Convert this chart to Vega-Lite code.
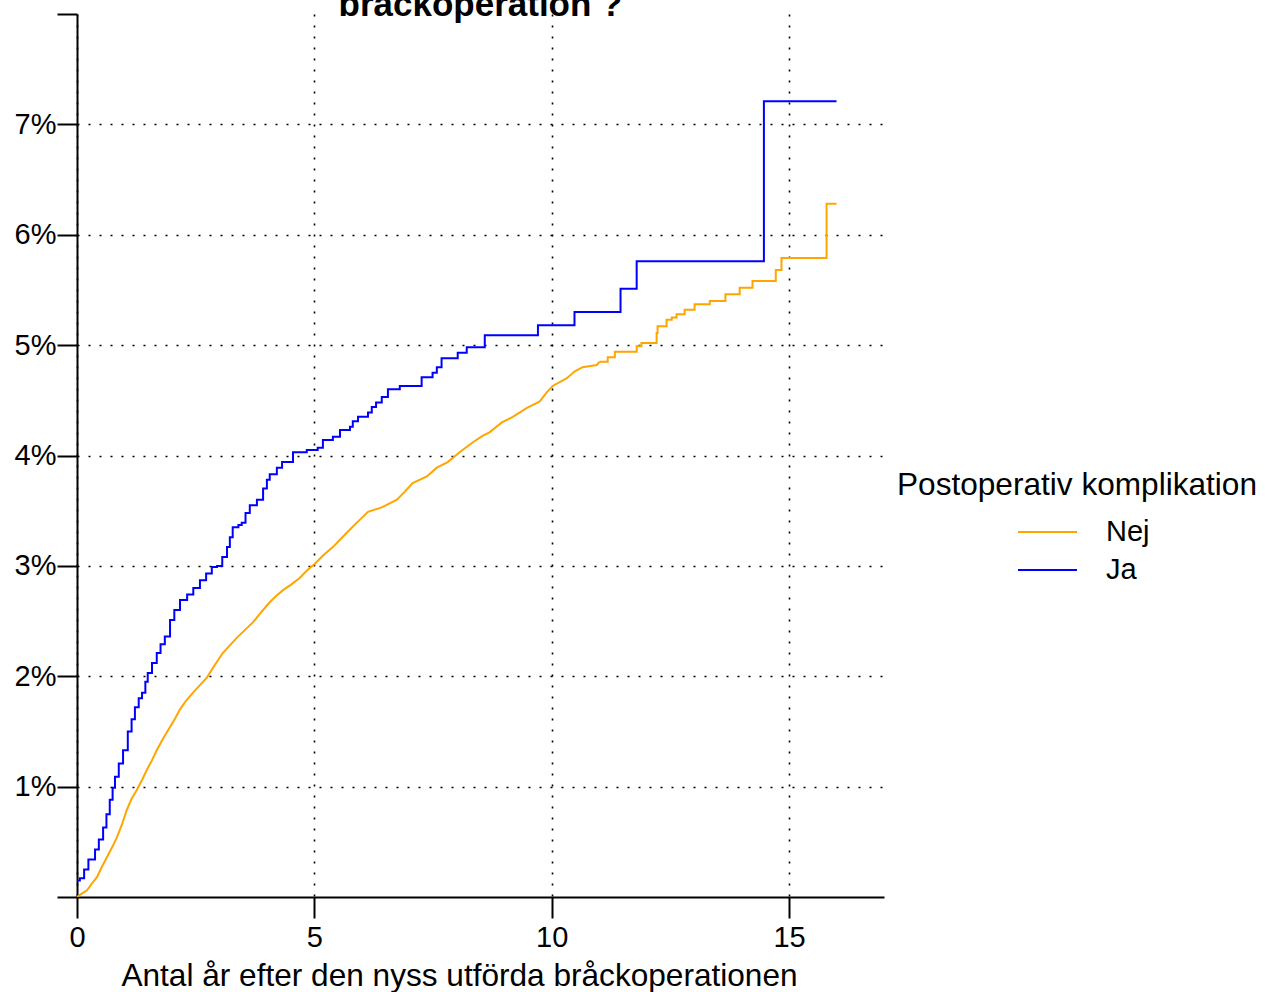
{
  "$schema": "https://vega.github.io/schema/vega-lite/v6.json",
  "autosize": "none",
  "width": 807,
  "height": 883,
  "padding": {"left": 77, "top": 14, "right": 381, "bottom": 95},
  "background": "white",
  "config": {
    "font": "Liberation Sans",
    "view": {"stroke": null}
  },
  "title": {
    "text": "bråckoperation ?",
    "font": "Liberation Sans",
    "fontSize": 35,
    "fontWeight": "bold",
    "color": "black",
    "anchor": "middle",
    "baseline": "alphabetic",
    "offset": -38
  },
  "datasets": {
    "ja": [
      {"t": 0, "p": 0.0015}, {"t": 0.06, "p": 0.0017}, {"t": 0.15, "p": 0.0025}, {"t": 0.24, "p": 0.0034},
      {"t": 0.38, "p": 0.0043}, {"t": 0.46, "p": 0.0052}, {"t": 0.55, "p": 0.0063}, {"t": 0.62, "p": 0.0075},
      {"t": 0.69, "p": 0.0088}, {"t": 0.75, "p": 0.0099}, {"t": 0.80, "p": 0.0109}, {"t": 0.88, "p": 0.0121},
      {"t": 0.97, "p": 0.0133}, {"t": 1.07, "p": 0.0150}, {"t": 1.15, "p": 0.0161}, {"t": 1.22, "p": 0.0172},
      {"t": 1.30, "p": 0.0180}, {"t": 1.37, "p": 0.0185}, {"t": 1.44, "p": 0.0195}, {"t": 1.49, "p": 0.0203},
      {"t": 1.58, "p": 0.0212}, {"t": 1.68, "p": 0.0221}, {"t": 1.76, "p": 0.0229}, {"t": 1.85, "p": 0.0236},
      {"t": 1.96, "p": 0.0251}, {"t": 2.05, "p": 0.0260}, {"t": 2.17, "p": 0.0269}, {"t": 2.32, "p": 0.0274},
      {"t": 2.45, "p": 0.0280}, {"t": 2.59, "p": 0.0287}, {"t": 2.72, "p": 0.0293}, {"t": 2.84, "p": 0.0299},
      {"t": 2.95, "p": 0.0300}, {"t": 3.06, "p": 0.0308}, {"t": 3.16, "p": 0.0317}, {"t": 3.22, "p": 0.0326},
      {"t": 3.28, "p": 0.0335}, {"t": 3.40, "p": 0.0337}, {"t": 3.47, "p": 0.0339}, {"t": 3.55, "p": 0.0348},
      {"t": 3.64, "p": 0.0355}, {"t": 3.79, "p": 0.0360}, {"t": 3.92, "p": 0.0370}, {"t": 4.00, "p": 0.0378},
      {"t": 4.06, "p": 0.0383}, {"t": 4.21, "p": 0.0389}, {"t": 4.32, "p": 0.0394}, {"t": 4.55, "p": 0.0403},
      {"t": 4.84, "p": 0.0405}, {"t": 5.07, "p": 0.0407}, {"t": 5.18, "p": 0.0414}, {"t": 5.39, "p": 0.0417},
      {"t": 5.54, "p": 0.0423}, {"t": 5.75, "p": 0.0426}, {"t": 5.81, "p": 0.0431}, {"t": 5.92, "p": 0.0435},
      {"t": 6.13, "p": 0.0439}, {"t": 6.21, "p": 0.0444}, {"t": 6.30, "p": 0.0448}, {"t": 6.42, "p": 0.0453},
      {"t": 6.55, "p": 0.0460}, {"t": 6.80, "p": 0.0463}, {"t": 7.26, "p": 0.0471}, {"t": 7.49, "p": 0.0475},
      {"t": 7.58, "p": 0.0480}, {"t": 7.68, "p": 0.0488}, {"t": 8.02, "p": 0.0493}, {"t": 8.21, "p": 0.0498},
      {"t": 8.59, "p": 0.0509}, {"t": 9.71, "p": 0.0518}, {"t": 10.48, "p": 0.0530}, {"t": 11.45, "p": 0.0551},
      {"t": 11.79, "p": 0.0576}, {"t": 14.47, "p": 0.0721}, {"t": 16.0, "p": 0.0721}
    ],
    "nejSmooth": [
      {"t": 0, "p": 0.0}, {"t": 0.1, "p": 0.0003}, {"t": 0.21, "p": 0.0006}, {"t": 0.31, "p": 0.0012},
      {"t": 0.42, "p": 0.0018}, {"t": 0.52, "p": 0.0027}, {"t": 0.63, "p": 0.0036}, {"t": 0.74, "p": 0.0045},
      {"t": 0.84, "p": 0.0054}, {"t": 0.95, "p": 0.0066}, {"t": 1.05, "p": 0.0079}, {"t": 1.15, "p": 0.0089},
      {"t": 1.26, "p": 0.0097}, {"t": 1.37, "p": 0.0106}, {"t": 1.47, "p": 0.0115}, {"t": 1.58, "p": 0.0124},
      {"t": 1.68, "p": 0.0133}, {"t": 1.82, "p": 0.0144}, {"t": 1.96, "p": 0.0154}, {"t": 2.07, "p": 0.0162},
      {"t": 2.17, "p": 0.0170}, {"t": 2.30, "p": 0.0178}, {"t": 2.44, "p": 0.0185}, {"t": 2.59, "p": 0.0192},
      {"t": 2.74, "p": 0.0199}, {"t": 2.90, "p": 0.0210}, {"t": 3.07, "p": 0.0221}, {"t": 3.22, "p": 0.0228},
      {"t": 3.37, "p": 0.0235}, {"t": 3.54, "p": 0.0242}, {"t": 3.71, "p": 0.0249}, {"t": 3.88, "p": 0.0258},
      {"t": 4.06, "p": 0.0267}, {"t": 4.20, "p": 0.0273}, {"t": 4.34, "p": 0.0278}, {"t": 4.51, "p": 0.0283},
      {"t": 4.69, "p": 0.0289}, {"t": 4.85, "p": 0.0296}, {"t": 5.01, "p": 0.0302}, {"t": 5.20, "p": 0.0310},
      {"t": 5.39, "p": 0.0317}, {"t": 5.57, "p": 0.0325}, {"t": 5.75, "p": 0.0333}, {"t": 5.94, "p": 0.0341},
      {"t": 6.13, "p": 0.0349}, {"t": 6.42, "p": 0.0353}, {"t": 6.74, "p": 0.0360}, {"t": 6.90, "p": 0.0367},
      {"t": 7.07, "p": 0.0375}, {"t": 7.37, "p": 0.0381}, {"t": 7.58, "p": 0.0389}, {"t": 7.81, "p": 0.0394},
      {"t": 8.06, "p": 0.0403}, {"t": 8.34, "p": 0.0412}, {"t": 8.55, "p": 0.0418}, {"t": 8.69, "p": 0.0421},
      {"t": 8.95, "p": 0.0430}, {"t": 9.18, "p": 0.0435}, {"t": 9.47, "p": 0.0443}, {"t": 9.75, "p": 0.0449},
      {"t": 9.89, "p": 0.0457}, {"t": 10.02, "p": 0.0463}, {"t": 10.32, "p": 0.0470}, {"t": 10.48, "p": 0.0476},
      {"t": 10.65, "p": 0.0480}, {"t": 10.95, "p": 0.0482}, {"t": 11.01, "p": 0.0485}
    ],
    "nejSteps": [
      {"t": 11.01, "p": 0.0485}, {"t": 11.18, "p": 0.0489},
      {"t": 11.33, "p": 0.0494}, {"t": 11.79, "p": 0.0499}, {"t": 11.89, "p": 0.0502}, {"t": 12.21, "p": 0.0511},
      {"t": 12.23, "p": 0.0517}, {"t": 12.42, "p": 0.0523}, {"t": 12.53, "p": 0.0525}, {"t": 12.63, "p": 0.0528},
      {"t": 12.80, "p": 0.0532}, {"t": 13.01, "p": 0.0537}, {"t": 13.33, "p": 0.0540}, {"t": 13.66, "p": 0.0546},
      {"t": 13.96, "p": 0.0552}, {"t": 14.23, "p": 0.0558}, {"t": 14.72, "p": 0.0568}, {"t": 14.84, "p": 0.0579},
      {"t": 15.79, "p": 0.0628}, {"t": 16.0, "p": 0.0628}
    ]
  },
  "layer": [
    {
      "data": {"name": "nejSmooth"},
      "transform": [{"calculate": "'Nej'", "as": "grupp"}],
      "mark": {"type": "line", "interpolate": "linear", "strokeWidth": 2, "clip": true},
      "encoding": {
        "x": {
          "field": "t", "type": "quantitative",
          "scale": {"domain": [0, 17], "nice": false, "zero": false},
          "axis": {
            "values": [0, 5, 10, 15],
            "title": "Antal år efter den nyss utförda bråckoperationen",
            "titleFont": "Liberation Sans", "titleFontSize": 31.6, "titleFontWeight": "normal", "titleColor": "black",
            "titleX": 382, "titlePadding": 8,
            "labelFont": "Liberation Sans", "labelFontSize": 29, "labelColor": "black", "labelPadding": 5,
            "labelFlush": false,
            "domainColor": "black", "domainWidth": 2,
            "tickColor": "black", "tickWidth": 2, "tickSize": 21,
            "grid": true, "gridColor": "black", "gridDash": [2, 9], "gridWidth": 1.6, "gridOpacity": 1
          }
        },
        "y": {
          "field": "p", "type": "quantitative",
          "scale": {"domain": [0, 0.08], "nice": false},
          "axis": {
            "values": [0, 0.01, 0.02, 0.03, 0.04, 0.05, 0.06, 0.07, 0.08],
            "labelExpr": "(datum.value < 0.005 || datum.value > 0.075) ? '' : format(datum.value, '.0%')",
            "title": null,
            "labelFont": "Liberation Sans", "labelFontSize": 29, "labelColor": "black", "labelPadding": 1,
            "labelFlush": false,
            "domainColor": "black", "domainWidth": 2,
            "tickColor": "black", "tickWidth": 2, "tickSize": 20,
            "grid": true, "gridColor": "black", "gridDash": [2, 9], "gridWidth": 1.6,
            "gridOpacity": {"condition": {"test": "datum.value < 0.005 || datum.value > 0.075", "value": 0}, "value": 1}
          }
        },
        "color": {
          "field": "grupp", "type": "nominal",
          "scale": {"domain": ["Nej", "Ja"], "range": ["#FFA500", "#0000FF"]},
          "legend": {
            "title": "Postoperativ komplikation",
            "orient": "none", "legendX": 820, "legendY": 456,
            "titleFont": "Liberation Sans", "titleFontSize": 31.6, "titleFontWeight": "normal", "titleColor": "black",
            "titleLimit": 600, "titlePadding": 11.5,
            "labelFont": "Liberation Sans", "labelFontSize": 29, "labelColor": "black", "labelLimit": 300,
            "symbolType": "stroke", "symbolSize": 3481, "symbolStrokeWidth": 2,
            "symbolOffset": 120, "labelOffset": 28, "rowPadding": 0, "clipHeight": 38
          }
        }
      }
    },
    {
      "data": {"name": "nejSteps"},
      "transform": [{"calculate": "'Nej'", "as": "grupp"}],
      "mark": {"type": "line", "interpolate": "step-after", "strokeWidth": 2, "clip": true},
      "encoding": {
        "x": {"field": "t", "type": "quantitative"},
        "y": {"field": "p", "type": "quantitative"},
        "color": {"field": "grupp", "type": "nominal"}
      }
    },
    {
      "data": {"name": "ja"},
      "transform": [{"calculate": "'Ja'", "as": "grupp"}],
      "mark": {"type": "line", "interpolate": "step-after", "strokeWidth": 2, "clip": true},
      "encoding": {
        "x": {"field": "t", "type": "quantitative"},
        "y": {"field": "p", "type": "quantitative"},
        "color": {"field": "grupp", "type": "nominal"}
      }
    }
  ]
}
